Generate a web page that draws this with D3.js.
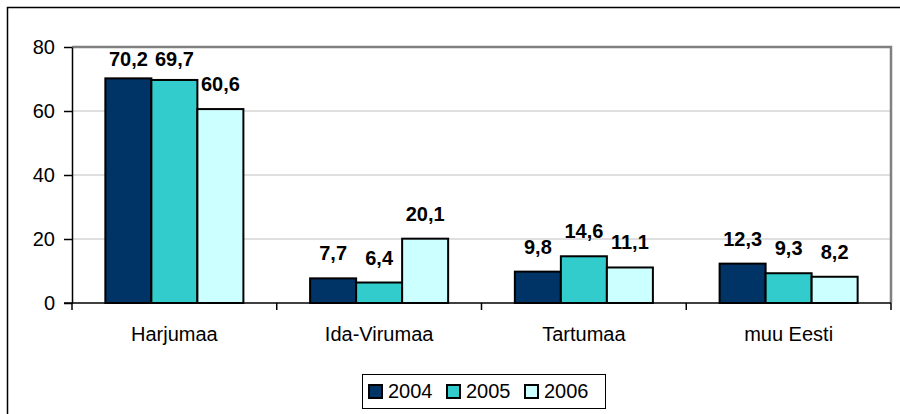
<!DOCTYPE html>
<html>
<head>
<meta charset="utf-8">
<script src="https://cdn.jsdelivr.net/npm/d3@7"></script>
<style>
  body { margin: 0; background: #fff; }
  svg { display: block; font-family: Arial, "Liberation Sans", sans-serif; }
</style>
</head>
<body>
<div class="board"></div>
<script>
// chart values
var categories = ['Harjumaa', 'Ida-Virumaa', 'Tartumaa', 'muu Eesti'];
var years = ['2004', '2005', '2006'];
var values2004 = [70.2, 7.7, 9.8, 12.3];
var values2005 = [69.7, 6.4, 14.6, 9.3];
var values2006 = [60.6, 20.1, 11.1, 8.2];
var yTicks = [0, 20, 40, 60, 80];
var colors = ['#003366', '#33CCCC', '#CCFFFF'];

var width = 900;
var height = 414;
var plot = {left: 72, right: 891, top: 47, bottom: 303};

var svg = d3.select('.board').append('svg')
  .attr('width', width)
  .attr('height', height);

// outer chart frame (runs off the right and bottom of the picture)
svg.append('rect')
  .attr('x', 7.5).attr('y', 7.5)
  .attr('width', 1000).attr('height', 1000)
  .attr('fill', 'none')
  .attr('stroke', '#000')
  .attr('stroke-width', 1.5);

var x0 = d3.scaleBand().domain(categories).range([plot.left, plot.right]);
var x1 = d3.scaleBand().domain(years).range([0, x0.bandwidth()]).paddingOuter(0.725);
var y = d3.scaleLinear().domain([0, 80]).range([plot.bottom, plot.top]);

// gridlines
svg.append('g').selectAll('line')
  .data(yTicks.filter(function(d) { return d > 0 && d < 80; }))
  .enter().append('line')
  .attr('x1', plot.left).attr('x2', plot.right)
  .attr('y1', function(d) { return y(d); })
  .attr('y2', function(d) { return y(d); })
  .attr('stroke', '#c0c0c0')
  .attr('stroke-width', 1);

// plot area border (gray top + right)
svg.append('path')
  .attr('d', 'M' + plot.left + ',' + plot.top + 'H' + plot.right + 'V' + plot.bottom)
  .attr('fill', 'none')
  .attr('stroke', '#808080')
  .attr('stroke-width', 2.5);

var series = years.map(function(yr, i) {
  var vals = [values2004, values2005, values2006][i];
  return categories.map(function(c, j) { return {year: yr, cat: c, value: vals[j], color: colors[i]}; });
});

var groups = svg.append('g').selectAll('g')
  .data(series)
  .enter().append('g');

groups.selectAll('rect')
  .data(function(d) { return d; })
  .enter().append('rect')
  .attr('x', function(d) { return x0(d.cat) + x1(d.year); })
  .attr('y', function(d) { return y(d.value); })
  .attr('width', x1.bandwidth())
  .attr('height', function(d) { return y(0) - y(d.value); })
  .attr('fill', function(d) { return d.color; })
  .attr('stroke', '#000')
  .attr('stroke-width', 2);

// data labels
groups.selectAll('text')
  .data(function(d) { return d; })
  .enter().append('text')
  .attr('x', function(d) { return x0(d.cat) + x1(d.year) + x1.bandwidth() / 2; })
  .attr('y', function(d) { return Math.max(y(d.value) - 18, 66); })
  .attr('text-anchor', 'middle')
  .attr('font-size', '20px')
  .attr('font-weight', 'bold')
  .text(function(d) { return String(d.value).replace('.', ','); });

// y axis
var yAxis = svg.append('g')
  .attr('transform', 'translate(' + plot.left + ',0)')
  .call(d3.axisLeft(y).tickValues(yTicks).tickSize(8).tickPadding(9).tickSizeOuter(0));
yAxis.selectAll('text').attr('font-size', '20px').attr('fill', '#000')
  .attr('font-family', 'Arial, "Liberation Sans", sans-serif');
yAxis.selectAll('line').attr('stroke', '#000').attr('stroke-width', 1.5);
yAxis.select('.domain').attr('stroke', '#000').attr('stroke-width', 1.5);

// x axis
svg.append('line')
  .attr('x1', plot.left - 8).attr('x2', plot.right)
  .attr('y1', plot.bottom).attr('y2', plot.bottom)
  .attr('stroke', '#000').attr('stroke-width', 1.5);

svg.append('g').selectAll('line')
  .data(categories.concat(['end']))
  .enter().append('line')
  .attr('x1', function(d, i) { return i < categories.length ? x0(d) : plot.right; })
  .attr('x2', function(d, i) { return i < categories.length ? x0(d) : plot.right; })
  .attr('y1', plot.bottom).attr('y2', plot.bottom + 7)
  .attr('stroke', '#000').attr('stroke-width', 1.5);

svg.append('g').selectAll('text')
  .data(categories)
  .enter().append('text')
  .attr('x', function(d) { return x0(d) + x0.bandwidth() / 2; })
  .attr('y', 341)
  .attr('text-anchor', 'middle')
  .attr('font-size', '20px')
  .text(function(d) { return d; });

// legend
var legend = svg.append('g');
legend.append('rect')
  .attr('x', 362.5).attr('y', 374.5)
  .attr('width', 243).attr('height', 34)
  .attr('fill', '#fff')
  .attr('stroke', '#000')
  .attr('stroke-width', 1);

var legendX = [369, 447, 525];
var item = legend.selectAll('g.item')
  .data(years)
  .enter().append('g')
  .attr('class', 'item')
  .attr('transform', function(d, i) { return 'translate(' + legendX[i] + ',0)'; });

item.append('rect')
  .attr('x', 0).attr('y', 385)
  .attr('width', 13).attr('height', 13)
  .attr('fill', function(d, i) { return colors[i]; })
  .attr('stroke', '#000')
  .attr('stroke-width', 2);

item.append('text')
  .attr('x', 19).attr('y', 398)
  .attr('font-size', '20px')
  .text(function(d) { return d; });
</script>
</body>
</html>
